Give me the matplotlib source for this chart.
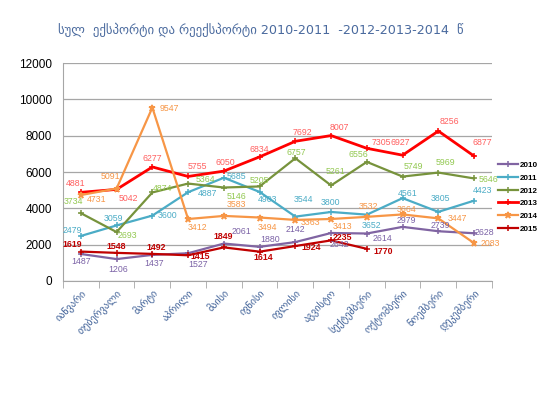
import matplotlib.pyplot as plt
import numpy as np

months = ['იანვარი', 'თებერვალი', 'მარტი', 'აპრილი', 'მაისი', 'ივნისი',
          'ივლისი', 'აგვისტო', 'სექტემბერი', 'ოქტომბერი', 'ნოემბერი', 'დეკემბერი']

v2010 = [1487, 1206, 1437, 1527, 2061, 1880, 2142, 2642, 2614, 2979, 2739, 2628]
v2011 = [2479, 3059, 3600, 4887, 5685, 4903, 3544, 3800, 3652, 4561, 3805, 4423]
v2012 = [3734, 2693, 4874, 5364, 5146, 5205, 6757, 5261, 6556, 5749, 5969, 5646]
v2013 = [4881, 5042, 6277, 5755, 6050, 6834, 7692, 8007, 7305, 6927, 8256, 6877]
v2014 = [4731, 5091, 9547, 3412, 3583, 3494, 3363, 3413, 3532, 3664, 3447, 2083]
v2015 = [1619, 1548, 1492, 1415, 1849, 1614, 1924, 2235, 1770]

# data label offsets in pixels (dx, dy)
off2010 = [(0, -8), (2, -10), (2, -9), (10, -11), (18, 12), (10, 7),
           (0, 13), (8, -12), (16, -5), (4, 6), (2, 6), (10, 1)]
off2011 = [(-9, 5), (-3, 7), (15, 0), (19, -1), (13, 1), (8, -8),
           (8, 17), (-1, 9), (5, -11), (5, 5), (2, 13), (8, 10)]
off2012 = [(-7, 12), (11, -3), (10, 4), (17, 4), (13, -9), (0, 6),
           (1, 6), (4, 14), (-8, 7), (11, 10), (7, 10), (14, -1)]
off2013 = [(-5, 9), (12, -9), (0, 8), (9, 10), (1, 9), (0, 7),
           (7, 9), (8, 8), (15, 6), (-2, 13), (11, 10), (8, 14)]
off2014 = [(16, -4), (-6, 12), (17, -1), (9, -8), (13, 11), (8, -10),
           (15, -3), (11, -8), (2, 10), (4, 5), (19, 0), (16, 0)]
off2015 = [(-9, 7), (0, 6), (4, 6), (12, -1), (-1, 11), (4, -6),
           (16, -1), (11, 3), (16, -3)]

series = [
    ('2010', v2010, off2010, '#8064A2', '#7B62A6', '+', 1.6, False),
    ('2011', v2011, off2011, '#4BACC6', '#4BACC6', '+', 1.6, False),
    ('2012', v2012, off2012, '#77933C', '#92C850', '+', 1.6, False),
    ('2013', v2013, off2013, '#FF0000', '#FF5F5F', '+', 2.0, False),
    ('2014', v2014, off2014, '#F79646', '#F79646', '*', 1.6, False),
    ('2015', v2015, off2015, '#C00000', '#C00000', '+', 1.6, True),
]

fig = plt.figure(figsize=(5.5, 4.12), dpi=100)
ax = fig.add_axes([0.1145, 0.318, 0.78, 0.529])

x = np.arange(len(months))
for name, vals, offs, col, lcol, mk, lw, bold in series:
    xs = x[:len(vals)]
    ms = 5 if mk == '*' else 4.5
    ax.plot(xs, vals, color=col, lw=lw, marker=mk, ms=ms, mew=1.1, label=name)
    for xi, v, (dx, dy) in zip(xs, vals, offs):
        ax.annotate(str(v), (xi, v), xytext=(dx, dy), textcoords='offset pixels',
                    ha='center', va='center', fontsize=6.3, color=lcol,
                    family='Liberation Sans',
                    fontweight='bold' if bold else 'normal')

ax.set_xlim(-0.5, 11.5)
ax.set_ylim(0, 12000)
ax.set_yticks(range(0, 12001, 2000))
ax.tick_params(axis='y', length=0, pad=8)
for t in ax.get_yticklabels():
    t.set_family('Liberation Sans')
    t.set_fontsize(8.5)
ax.grid(axis='y', color='#A6A6A6', lw=0.9)
ax.set_axisbelow(True)

ax.set_xticks(x)
ax.set_xticklabels(months, rotation=45, ha='right', va='top',
                   rotation_mode='anchor', fontsize=7.3, color='#3C5E96')
ax.tick_params(axis='x', length=0, pad=5)
ax.set_xticks(np.arange(-0.5, 12, 1), minor=True)
ax.tick_params(axis='x', which='minor', length=5, color='#A6A6A6')

for s in ['top', 'right']:
    ax.spines[s].set_visible(False)
ax.spines['left'].set_color('#A6A6A6')
ax.spines['bottom'].set_color('#A6A6A6')

ax.legend(loc='center left', bbox_to_anchor=(1.0, 0.385), frameon=False,
          prop={'size': 5.8, 'weight': 'bold', 'family': 'Liberation Sans'},
          handlelength=2.4, labelspacing=0.63, handletextpad=0.2,
          borderaxespad=0.4)

fig.text(0.475, 0.927, 'სულ  ექსპორტი და რეექსპორტი 2010-2011  -2012-2013-2014  წ',
         ha='center', va='center', fontsize=9.2, color='#4A6A9E')

fig.savefig('out.png', dpi=100)
